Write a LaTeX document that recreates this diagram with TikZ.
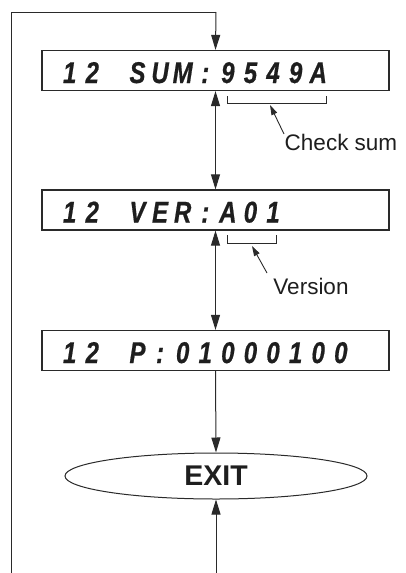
\documentclass[tikz,border=0pt]{standalone}
\usepackage{fontspec}
\setmainfont{Liberation Sans}
\newfontfamily\lcdfont[FakeStretch=0.8,FakeBold=0.6]{Liberation Sans}
\usetikzlibrary{arrows.meta,shapes.geometric}
\newcommand\lch[1]{\makebox[22.6pt][c]{#1}}
\definecolor{linec}{HTML}{2A2A2A}
\definecolor{textc}{HTML}{1E1E1E}
\begin{document}
\begin{tikzpicture}[x=1pt,y=-1pt]
\useasboundingbox (0,0) rectangle (405,573);
\tikzset{
  lcdbox/.style={draw=linec, line width=1.2pt, minimum width=347pt, minimum height=40pt, inner sep=0pt},
  lcdtext/.style={anchor=base west, inner sep=0pt, text=textc,
    font=\lcdfont\bfseries\itshape\fontsize{30}{30}\selectfont},
  flow/.style={draw=linec, line width=1pt, -{Triangle[length=15pt,width=9pt]}},
  dflow/.style={draw=linec, line width=1pt, {Triangle[length=15pt,width=9pt]}-{Triangle[length=15pt,width=9pt]}},
  bracket/.style={draw=linec, line width=1pt},
  pointer/.style={draw=linec, line width=0.9pt, -{Triangle[length=10pt,width=6pt]}},
  note/.style={inner sep=0pt, text=textc, font=\fontsize{22.5}{22.5}\selectfont},
  exitshape/.style={ellipse, draw=linec, line width=1pt, minimum width=302pt, minimum height=46pt, inner sep=0pt,
    text=textc, font=\bfseries\fontsize{28.5}{28.5}\selectfont}
}
% boxes
\node[lcdbox] (sum) at (215.5,70.5) {};
\node[lcdbox] (ver) at (215.5,210) {};
\node[lcdbox] (par) at (215.5,350.5) {};
\node[exitshape] (exit) at (216,476) {EXIT};
% box texts
\node[lcdtext] (sumt) at (58.2,83) {\lch1\lch2\lch{}\lch S\lch U\lch M\lch :\lch 9\lch 5\lch 4\lch 9\lch A};
\node[lcdtext] (vert) at (58.2,222.5) {\lch1\lch2\lch{}\lch V\lch E\lch R\lch :\lch A\lch 0\lch 1};
\node[lcdtext] (part) at (58.2,363) {\lch1\lch2\lch{}\lch P\lch :\lch 0\lch 1\lch 0\lch 0\lch 0\lch 1\lch 0\lch 0};
% loop
\coordinate (lb) at (11,573);
\coordinate (lt) at (11,12);
\coordinate (rt) at (216,12);
\coordinate (eb) at (216,573);
\draw[bracket] (lb) -- (lt) -- (rt);
\draw[flow] (rt) -- (sum.north);
\draw[dflow] (sum.south) -- (ver.north);
\draw[dflow] (ver.south) -- (par.north);
\draw[flow] (par.south) -- (exit.north);
\draw[flow] (eb) -- (exit.south);
% check sum bracket
\coordinate (c1) at (227,96);
\coordinate (c2) at (227,103);
\coordinate (c3) at (326,103);
\coordinate (c4) at (326,96);
\draw[bracket] (c1) -- (c2) -- (c3) -- (c4);
\coordinate (ctip) at (270,105);
\node[note] (cs) at (341,142) {Check sum};
\coordinate (ctail) at (284,134);
\draw[pointer] (ctail) -- (ctip);
% version bracket
\coordinate (v1) at (227,235);
\coordinate (v2) at (227,243);
\coordinate (v3) at (276,243);
\coordinate (v4) at (276,235);
\draw[bracket] (v1) -- (v2) -- (v3) -- (v4);
\node[note] (vn) at (311,286) {Version};
\coordinate (vtip) at (252,246);
\coordinate (vtail) at (267,273);
\draw[pointer] (vtail) -- (vtip);
\end{tikzpicture}
\end{document}
